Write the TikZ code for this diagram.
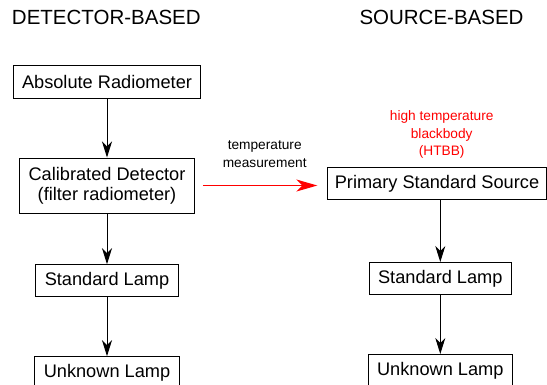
\documentclass[tikz,border=0pt]{standalone}
\usepackage{fontspec}
\setmainfont{Liberation Sans}
\usepackage{tikz}
\usetikzlibrary{positioning, arrows.meta}

\begin{document}
\begin{tikzpicture}[x=1pt, y=1pt, line width=1pt,
  >={Stealth[length=16pt, width=10pt, inset=5pt]},
  block/.style={draw, rectangle, minimum height=32pt, inner xsep=9pt, align=center,
    font=\fontsize{18.2}{20}\selectfont},
  note/.style={align=center, font=\fontsize{13.7}{17.5}\selectfont},
  head/.style={anchor=base west, inner sep=0pt, font=\fontsize{20.5}{24}\selectfont}]
  \useasboundingbox (0,0) rectangle (547,-384);

  % column titles
  \node[head] (dtitle) at (11.5,-24.4) {DETECTOR-BASED};
  \node[head] (stitle) at (359,-24.4) {SOURCE-BASED};

  % detector chain
  \node[block, minimum height=33pt] (abs) at (107,-81.5) {Absolute Radiometer};
  \node[block, minimum height=55pt, below=59pt of abs] (cal) {Calibrated Detector\\(filter radiometer)};
  \node[block, below=50.7pt of cal] (stdL) {Standard Lamp};
  \node[block, below=59pt of stdL] (unkL) {Unknown Lamp};

  % source chain
  \node[block, inner xsep=7pt] (prim) at (437,-183.3) {Primary Standard Source};
  \node[block] (stdR) at (440.3,-278.5) {Standard Lamp};
  \node[block, below=59pt of stdR] (unkR) {Unknown Lamp};
  \node[note, text=red] (htbb) at (441.7,-134.5) {high temperature\\blackbody\\(HTBB)};

  \coordinate (tstart) at ([xshift=8pt]cal.east);
  \coordinate (tend) at ([xshift=-10pt]prim.west);

  \draw[->] (abs) -- (cal);
  \draw[->] (cal) -- (stdL);
  \draw[->] (stdL) -- (unkL);
  \draw[->] (prim.south -| stdR) -- (stdR);
  \draw[->] (stdR) -- (unkR);
  \draw[red, line width=1.3pt, ->, >={Stealth[length=21pt, width=12pt, inset=6pt]}] (tstart) -- node[note, text=black, pos=0.54, yshift=31.5pt] {temperature\\measurement} (tend |- tstart);
\end{tikzpicture}
\end{document}
